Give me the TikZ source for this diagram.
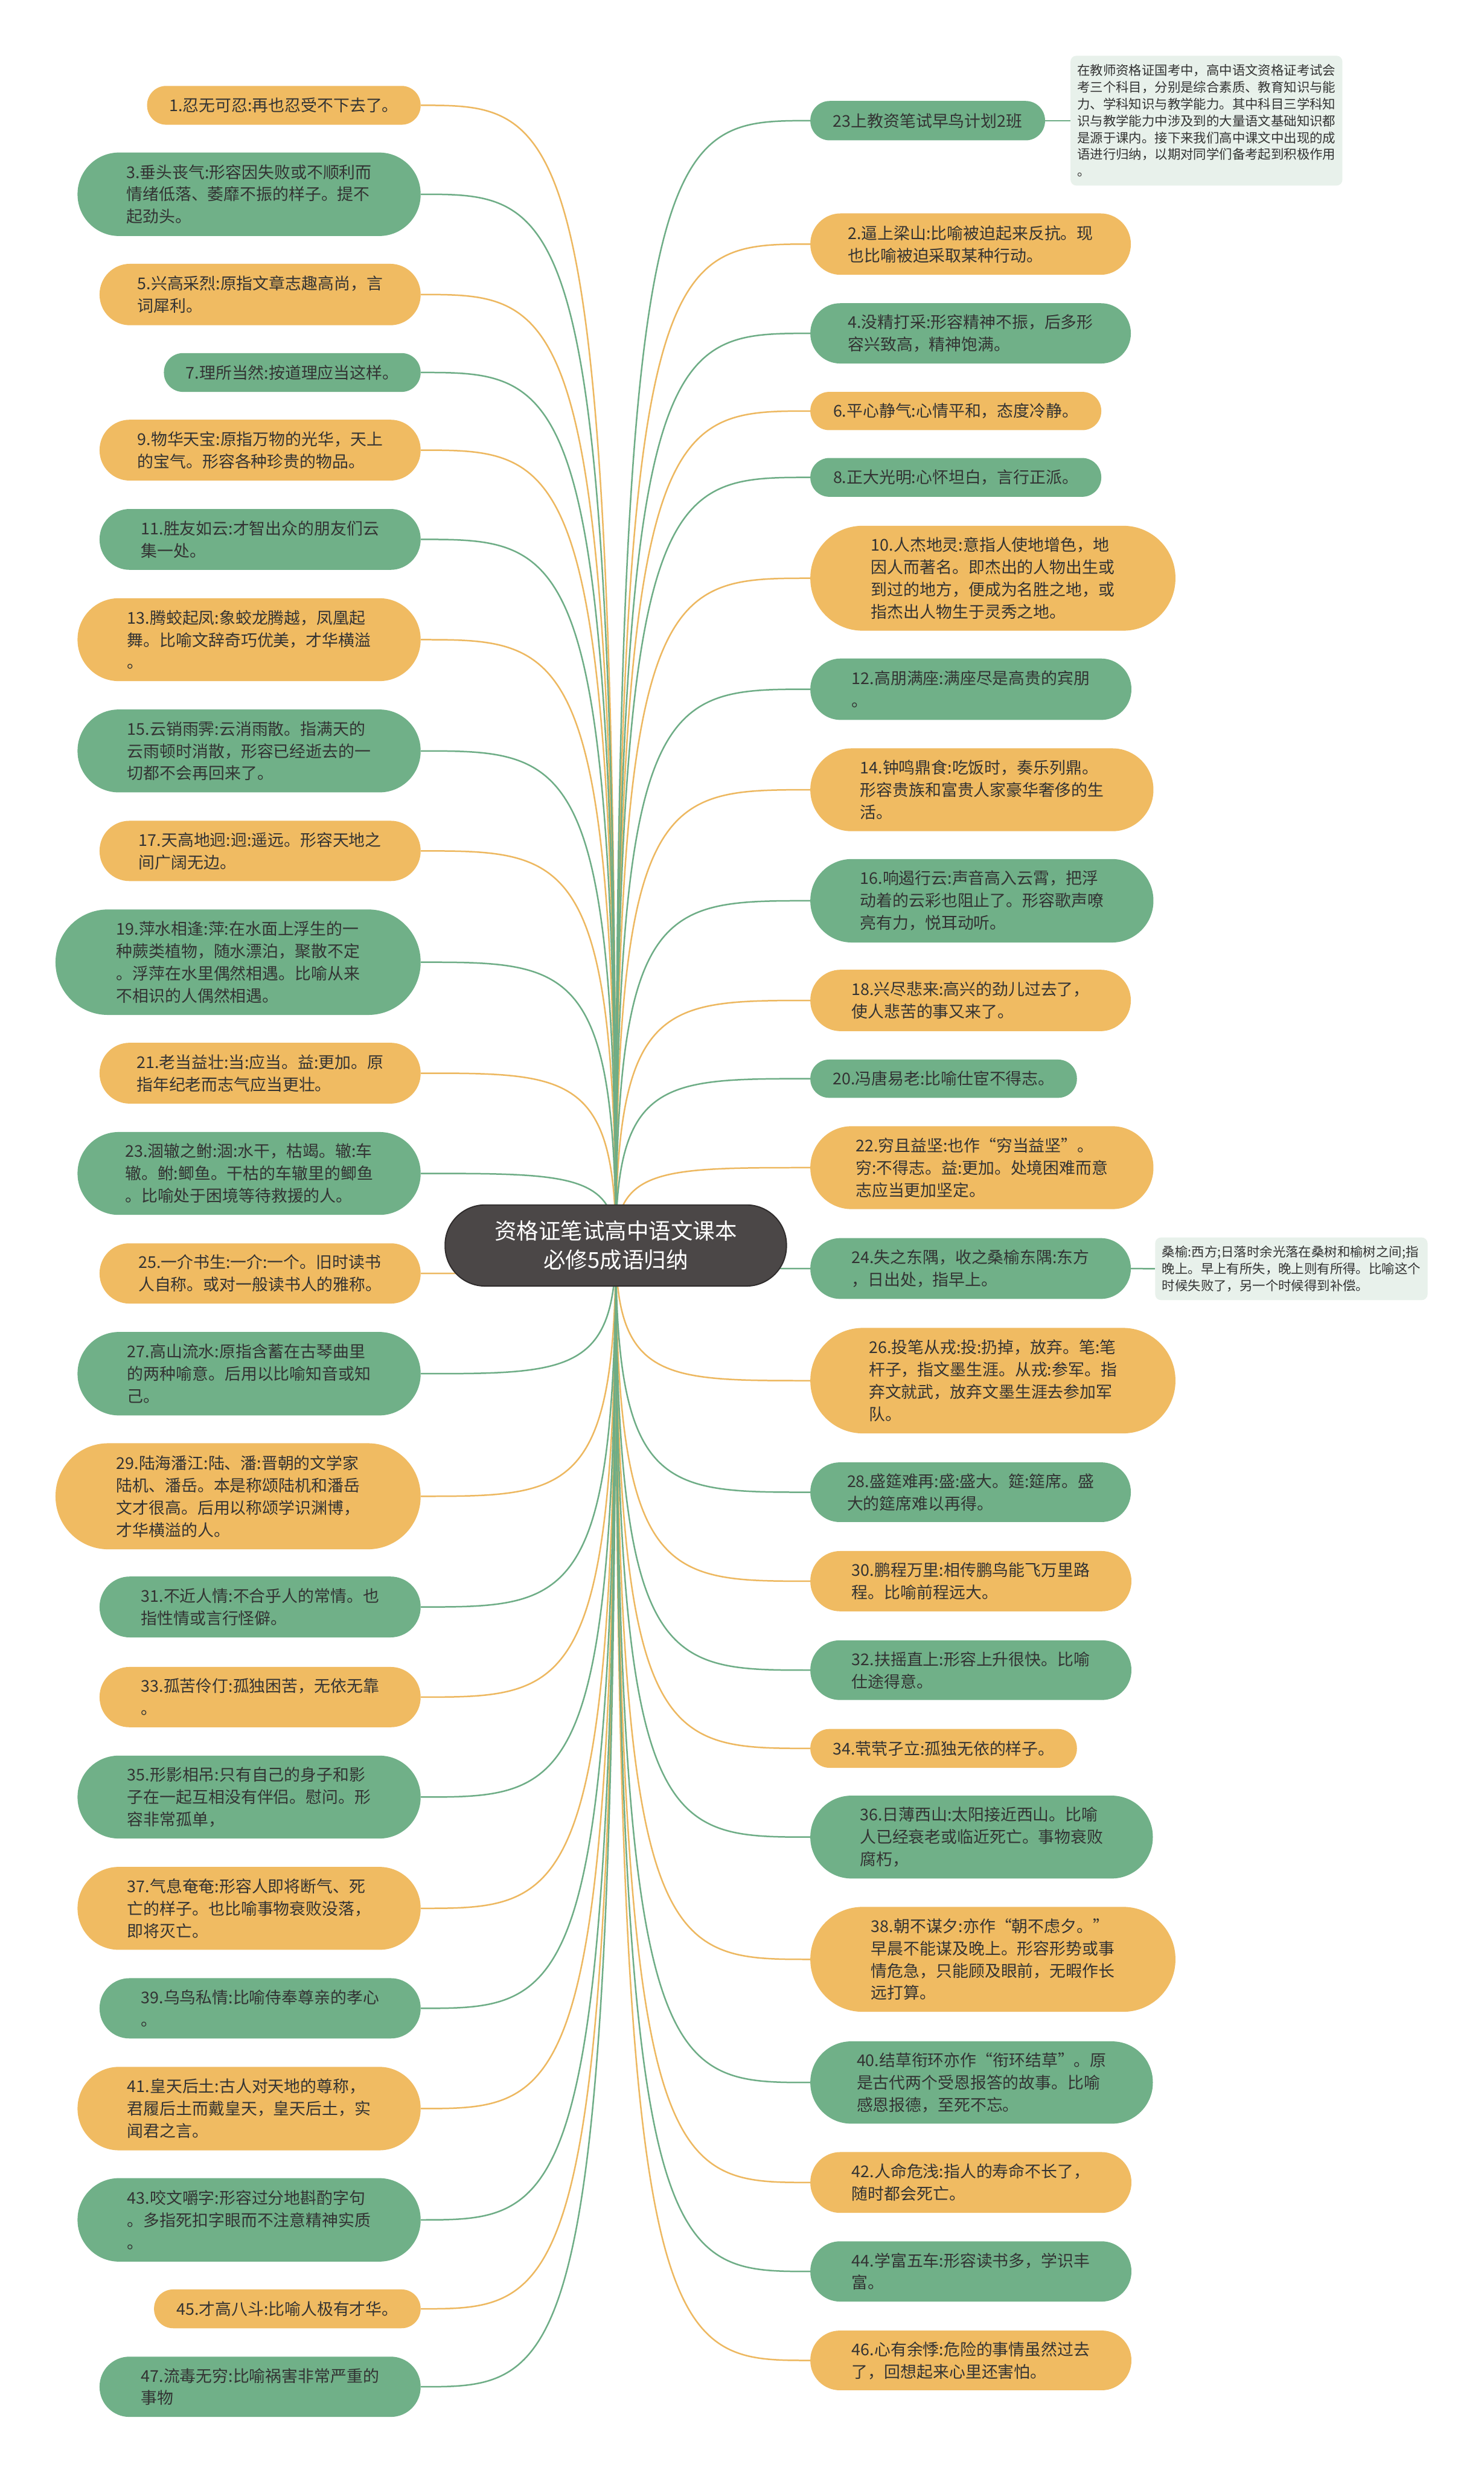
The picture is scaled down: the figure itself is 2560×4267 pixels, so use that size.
\documentclass[tikz,border=0pt]{standalone}
\usepackage{fontspec}
\setmainfont{Noto Sans CJK SC}
\usetikzlibrary{calc,backgrounds}
\definecolor{ofill}{HTML}{F0BB62}
\definecolor{gfill}{HTML}{70B088}
\definecolor{oline}{HTML}{EDB860}
\definecolor{gline}{HTML}{6EAD86}
\definecolor{txt}{HTML}{333333}
\definecolor{notefill}{HTML}{E8F1EB}
\definecolor{cfill}{HTML}{4B4747}
\definecolor{cborder}{HTML}{2E2B2B}
\tikzset{
 idiom/.style={inner sep=0pt, align=left, text=txt, font=\fontsize{28pt}{38.5pt}\selectfont},
 notebox/.style={inner sep=0pt, align=left, text=txt, font=\fontsize{22.3pt}{29pt}\selectfont, fill=notefill, rounded corners=10pt},
 link/.style={line width=2.6pt},
}
\newcommand\leftidiom[6]{%
  \pgfmathsetmacro\myw{726-#2}%
  \pgfmathsetmacro\myh{#4-#3}%
  \pgfmathsetmacro\myr{(#4-#3)/2-0.5}%
  \node[idiom, fill=#5, minimum width=\myw pt, minimum height=\myh pt, rounded corners=\myr pt, anchor=north east] (#1) at (726,#3) {#6};%
}
\newcommand\rightidiom[6]{%
  \pgfmathsetmacro\myw{#2-1398}%
  \pgfmathsetmacro\myh{#4-#3}%
  \pgfmathsetmacro\myr{(#4-#3)/2-0.5}%
  \node[idiom, fill=#5, minimum width=\myw pt, minimum height=\myh pt, rounded corners=\myr pt, anchor=north west] (#1) at (1398,#3) {#6};%
}
\newcommand\myconn[3]{%
  \draw[link, #3] (C.center) .. controls (C.center |- #1.#2) and ($(C.center |- #1.#2)!0.25!(#1.#2)$) .. (#1.#2);%
}
\begin{document}
\begin{tikzpicture}[x=1pt,y=-1pt]
\useasboundingbox (0,0) rectangle (2560,4267);

\node[fill=cfill, draw=cborder, line width=2pt, text=white, font=\fontsize{38pt}{50pt}\selectfont, align=center, minimum width=589pt, minimum height=140pt, rounded corners=69pt, inner sep=0pt] (C) at (1062.5,2149) {资格证笔试高中语文课本\\必修5成语归纳};

% left column
\leftidiom{L1}{254}{148}{215}{ofill}{1.忍无可忍:再也忍受不下去了。}
\leftidiom{L3}{134}{263}{407}{gfill}{3.垂头丧气:形容因失败或不顺利而\\情绪低落、萎靡不振的样子。提不\\起劲头。}
\leftidiom{L5}{172}{455}{561}{ofill}{5.兴高采烈:原指文章志趣高尚，言\\词犀利。}
\leftidiom{L7}{283}{609}{676}{gfill}{7.理所当然:按道理应当这样。}
\leftidiom{L9}{172}{724}{829}{ofill}{9.物华天宝:原指万物的光华，天上\\的宝气。形容各种珍贵的物品。}
\leftidiom{L11}{172}{878}{983}{gfill}{11.胜友如云:才智出众的朋友们云\\集一处。}
\leftidiom{L13}{134}{1032}{1175}{ofill}{13.腾蛟起凤:象蛟龙腾越，凤凰起\\舞。比喻文辞奇巧优美，才华横溢\\。}
\leftidiom{L15}{134}{1224}{1367}{gfill}{15.云销雨霁:云消雨散。指满天的\\云雨顿时消散，形容已经逝去的一\\切都不会再回来了。}
\leftidiom{L17}{172}{1416}{1520}{ofill}{17.天高地迥:迥:遥远。形容天地之\\间广阔无边。}
\leftidiom{L19}{96}{1569}{1751}{gfill}{19.萍水相逢:萍:在水面上浮生的一\\种蕨类植物，随水漂泊，聚散不定\\。浮萍在水里偶然相遇。比喻从来\\不相识的人偶然相遇。}
\leftidiom{L21}{172}{1799}{1904}{ofill}{21.老当益壮:当:应当。益:更加。原\\指年纪老而志气应当更壮。}
\leftidiom{L23}{134}{1953}{2096}{gfill}{23.涸辙之鲋:涸:水干，枯竭。辙:车\\辙。鲋:鲫鱼。干枯的车辙里的鲫鱼\\。比喻处于困境等待救援的人。}
\leftidiom{L25}{172}{2145}{2249}{ofill}{25.一介书生:一介:一个。旧时读书\\人自称。或对一般读书人的雅称。}
\leftidiom{L27}{134}{2298}{2442}{gfill}{27.高山流水:原指含蓄在古琴曲里\\的两种喻意。后用以比喻知音或知\\己。}
\leftidiom{L29}{96}{2490}{2673}{ofill}{29.陆海潘江:陆、潘:晋朝的文学家\\陆机、潘岳。本是称颂陆机和潘岳\\文才很高。后用以称颂学识渊博，\\才华横溢的人。}
\leftidiom{L31}{172}{2720}{2825}{gfill}{31.不近人情:不合乎人的常情。也\\指性情或言行怪僻。}
\leftidiom{L33}{172}{2876}{2980}{ofill}{33.孤苦伶仃:孤独困苦，无依无靠\\。}
\leftidiom{L35}{134}{3029}{3172}{gfill}{35.形影相吊:只有自己的身子和影\\子在一起互相没有伴侣。慰问。形\\容非常孤单，}
\leftidiom{L37}{134}{3221}{3364}{ofill}{37.气息奄奄:形容人即将断气、死\\亡的样子。也比喻事物衰败没落，\\即将灭亡。}
\leftidiom{L39}{172}{3413}{3517}{gfill}{39.乌鸟私情:比喻侍奉尊亲的孝心\\。}
\leftidiom{L41}{134}{3566}{3710}{ofill}{41.皇天后土:古人对天地的尊称，\\君履后土而戴皇天，皇天后土，实\\闻君之言。}
\leftidiom{L43}{134}{3758}{3902}{gfill}{43.咬文嚼字:形容过分地斟酌字句\\。多指死扣字眼而不注意精神实质\\。}
\leftidiom{L45}{266}{3950}{4017}{ofill}{45.才高八斗:比喻人极有才华。}
\leftidiom{L47}{172}{4066}{4170}{gfill}{47.流毒无穷:比喻祸害非常严重的\\事物}

% right column
\rightidiom{R23}{1803}{174}{242}{gfill}{23上教资笔试早鸟计划2班}
\rightidiom{R2}{1951}{368}{474}{ofill}{2.逼上梁山:比喻被迫起来反抗。现\\也比喻被迫采取某种行动。}
\rightidiom{R4}{1951}{523}{627}{gfill}{4.没精打采:形容精神不振，后多形\\容兴致高，精神饱满。}
\rightidiom{R6}{1900}{676}{742}{ofill}{6.平心静气:心情平和，态度冷静。}
\rightidiom{R8}{1900}{790}{857}{gfill}{8.正大光明:心怀坦白，言行正派。}
\rightidiom{R10}{2028}{907}{1088}{ofill}{10.人杰地灵:意指人使地增色，地\\因人而著名。即杰出的人物出生或\\到过的地方，便成为名胜之地，或\\指杰出人物生于灵秀之地。}
\rightidiom{R12}{1952}{1136}{1242}{gfill}{12.高朋满座:满座尽是高贵的宾朋\\。}
\rightidiom{R14}{1990}{1291}{1434}{ofill}{14.钟鸣鼎食:吃饭时，奏乐列鼎。\\形容贵族和富贵人家豪华奢侈的生\\活。}
\rightidiom{R16}{1990}{1482}{1626}{gfill}{16.响遏行云:声音高入云霄，把浮\\动着的云彩也阻止了。形容歌声嘹\\亮有力，悦耳动听。}
\rightidiom{R18}{1951}{1673}{1779}{ofill}{18.兴尽悲来:高兴的劲儿过去了，\\使人悲苦的事又来了。}
\rightidiom{R20}{1858}{1828}{1894}{gfill}{20.冯唐易老:比喻仕宦不得志。}
\rightidiom{R22}{1990}{1943}{2086}{ofill}{22.穷且益坚:也作“穷当益坚”。\\穷:不得志。益:更加。处境困难而意\\志应当更加坚定。}
\rightidiom{R24}{1951}{2136}{2241}{gfill}{24.失之东隅，收之桑榆东隅:东方\\，日出处，指早上。}
\rightidiom{R26}{2028}{2291}{2473}{ofill}{26.投笔从戎:投:扔掉，放弃。笔:笔\\杆子，指文墨生涯。从戎:参军。指\\弃文就武，放弃文墨生涯去参加军\\队。}
\rightidiom{R28}{1951}{2523}{2626}{gfill}{28.盛筵难再:盛:盛大。筵:筵席。盛\\大的筵席难以再得。}
\rightidiom{R30}{1952}{2676}{2780}{ofill}{30.鹏程万里:相传鹏鸟能飞万里路\\程。比喻前程远大。}
\rightidiom{R32}{1952}{2830}{2933}{gfill}{32.扶摇直上:形容上升很快。比喻\\仕途得意。}
\rightidiom{R34}{1858}{2983}{3050}{ofill}{34.茕茕孑立:孤独无依的样子。}
\rightidiom{R36}{1989}{3098}{3241}{gfill}{36.日薄西山:太阳接近西山。比喻\\人已经衰老或临近死亡。事物衰败\\腐朽，}
\rightidiom{R38}{2028}{3290}{3471}{ofill}{38.朝不谋夕:亦作“朝不虑夕。”\\早晨不能谋及晚上。形容形势或事\\情危急，只能顾及眼前，无暇作长\\远打算。}
\rightidiom{R40}{1989}{3522}{3664}{gfill}{40.结草衔环亦作“衔环结草”。原\\是古代两个受恩报答的故事。比喻\\感恩报德，至死不忘。}
\rightidiom{R42}{1952}{3713}{3818}{ofill}{42.人命危浅:指人的寿命不长了，\\随时都会死亡。}
\rightidiom{R44}{1952}{3867}{3971}{gfill}{44.学富五车:形容读书多，学识丰\\富。}
\rightidiom{R46}{1952}{4021}{4124}{ofill}{46.心有余悸:危险的事情虽然过去\\了，回想起来心里还害怕。}

% notes
\node[notebox, minimum width=469pt, minimum height=224pt, anchor=north west] (N1) at (1847,96) {在教师资格证国考中，高中语文资格证考试会\\考三个科目，分别是综合素质、教育知识与能\\力、学科知识与教学能力。其中科目三学科知\\识与教学能力中涉及到的大量语文基础知识都\\是源于课内。接下来我们高中课文中出现的成\\语进行归纳，以期对同学们备考起到积极作用\\。};
\node[notebox, minimum width=470pt, minimum height=108pt, anchor=north west] (N2) at (1993,2135) {桑榆:西方;日落时余光落在桑树和榆树之间;指\\晚上。早上有所失，晚上则有所得。比喻这个\\时候失败了，另一个时候得到补偿。};

\begin{scope}[on background layer]
\fill[white] (0,0) rectangle (2560,4267);
\foreach \n in {L1,L5,L9,L13,L17,L21,L25,L29,L33,L37,L41,L45} {\myconn{\n}{east}{oline}}
\foreach \n in {L3,L7,L11,L15,L19,L23,L27,L31,L35,L39,L43,L47} {\myconn{\n}{east}{gline}}
\foreach \n in {R2,R6,R10,R14,R18,R22,R26,R30,R34,R38,R42,R46} {\myconn{\n}{west}{oline}}
\foreach \n in {R23,R4,R8,R12,R16,R20,R24,R28,R32,R36,R40,R44} {\myconn{\n}{west}{gline}}
\draw[link, gline] (R23.east) -- (N1.west);
\draw[link, gline] (R24.east) -- (N2.west);
\end{scope}
\end{tikzpicture}
\end{document}
